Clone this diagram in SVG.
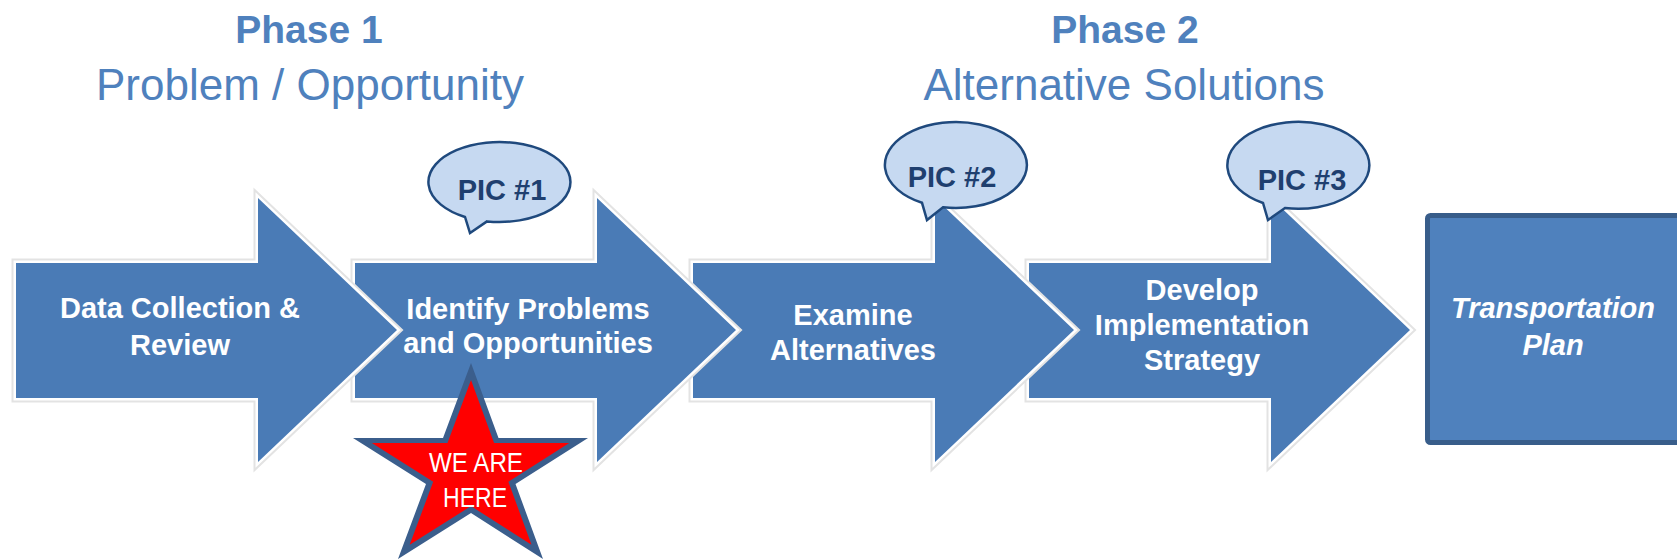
<svg xmlns="http://www.w3.org/2000/svg" xmlns:xlink="http://www.w3.org/1999/xlink" width="1677" height="560" viewBox="0 0 1677 560">
  <style>
    .halo { fill: #4A7BB6; stroke: #E3E3E3; stroke-width: 9; paint-order: stroke; stroke-linejoin: miter; }
    .arrow { fill: #4A7BB6; stroke: #FFFFFF; stroke-width: 5; paint-order: stroke; stroke-linejoin: miter; }
    .atext { font-family: "Liberation Sans", Arial, sans-serif; font-weight: bold; font-size: 29px; fill: #FFFFFF; text-anchor: middle; }
    .phase { font-family: "Liberation Sans", Arial, sans-serif; font-weight: bold; font-size: 39px; fill: #4F81BD; text-anchor: middle; }
    .sub { font-family: "Liberation Sans", Arial, sans-serif; font-size: 44px; fill: #4F81BD; text-anchor: middle; }
    .bubble { fill: #C6D9F1; stroke: #1F497D; stroke-width: 2.5; stroke-linejoin: miter; }
    .btext { font-family: "Liberation Sans", Arial, sans-serif; font-weight: bold; font-size: 29px; fill: #1F3F6F; text-anchor: middle; }
    .star-out { fill: #3B5E8C; }
    .star-in { fill: #FF0000; }
    .stext { font-family: "Liberation Sans", Arial, sans-serif; font-size: 27px; fill: #FFFFFF; text-anchor: middle; }
  </style>
  <defs>
    <path id="arrowShape" d="M0,263 H242 V198 L381,330 L242,462 V398 H0 Z"/>
  </defs>

  <rect width="1677" height="560" fill="#FFFFFF"/>

  <g id="titles">
    <text class="phase" x="309" y="43">Phase 1</text>
    <text class="sub" x="310" y="100">Problem / Opportunity</text>
    <text class="phase" x="1125" y="43">Phase 2</text>
    <text class="sub" x="1124" y="100">Alternative Solutions</text>
  </g>

  <g id="connectors"></g>

  <g id="step4">
    <use xlink:href="#arrowShape" href="#arrowShape" class="halo" transform="translate(1029,0)"/>
    <use xlink:href="#arrowShape" href="#arrowShape" class="arrow" transform="translate(1029,0)"/>
    <text class="atext" x="1202" y="300">Develop</text>
    <text class="atext" x="1202" y="335">Implementation</text>
    <text class="atext" x="1202" y="370">Strategy</text>
  </g>

  <g id="step3">
    <use xlink:href="#arrowShape" href="#arrowShape" class="halo" transform="translate(693,0)"/>
    <use xlink:href="#arrowShape" href="#arrowShape" class="arrow" transform="translate(693,0)"/>
    <text class="atext" x="853" y="325">Examine</text>
    <text class="atext" x="853" y="360">Alternatives</text>
  </g>

  <g id="step2">
    <use xlink:href="#arrowShape" href="#arrowShape" class="halo" transform="translate(355,0)"/>
    <use xlink:href="#arrowShape" href="#arrowShape" class="arrow" transform="translate(355,0)"/>
    <text class="atext" x="528" y="319">Identify Problems</text>
    <text class="atext" x="528" y="353">and Opportunities</text>
  </g>

  <g id="step1">
    <use xlink:href="#arrowShape" href="#arrowShape" class="halo" transform="translate(16,0)"/>
    <use xlink:href="#arrowShape" href="#arrowShape" class="arrow" transform="translate(16,0)"/>
    <text class="atext" x="180" y="318">Data Collection &amp;</text>
    <text class="atext" x="180" y="355">Review</text>
  </g>

  <g id="plan">
    <rect x="1427.5" y="215.5" width="270" height="227" rx="3" fill="#4F81BD" stroke="#385D8A" stroke-width="5"/>
    <text class="atext" x="1553" y="318" font-style="italic">Transportation</text>
    <text class="atext" x="1553" y="355" font-style="italic">Plan</text>
  </g>

  <g id="pic1">
    <path class="bubble" d="M465,217 A71,40 0 1,1 487,221.4 L470,233 Z"/>
    <text class="btext" x="502" y="200">PIC #1</text>
  </g>

  <g id="pic2">
    <path class="bubble" d="M922,202.8 A71,43 0 1,1 943,207.3 L927,220 Z"/>
    <text class="btext" x="952" y="187">PIC #2</text>
  </g>

  <g id="pic3">
    <path class="bubble" d="M1263,203 A71,43.5 0 1,1 1285,208 L1268,220 Z"/>
    <text class="btext" x="1302" y="190">PIC #3</text>
  </g>

  <g id="star">
    <polygon class="star-out" points="471,363 498.5,438 588,438 515.5,484 543,559 471,513 398,559 426,484 353,438 443,438"/>
    <polygon class="star-in" transform="translate(471,470) scale(0.84) translate(-471,-470)" points="471,363 498.5,438 588,438 515.5,484 543,559 471,513 398,559 426,484 353,438 443,438"/>
    <text class="stext" x="476" y="472" textLength="94" lengthAdjust="spacingAndGlyphs">WE ARE</text>
    <text class="stext" x="475" y="507" textLength="64" lengthAdjust="spacingAndGlyphs">HERE</text>
  </g>
</svg>
